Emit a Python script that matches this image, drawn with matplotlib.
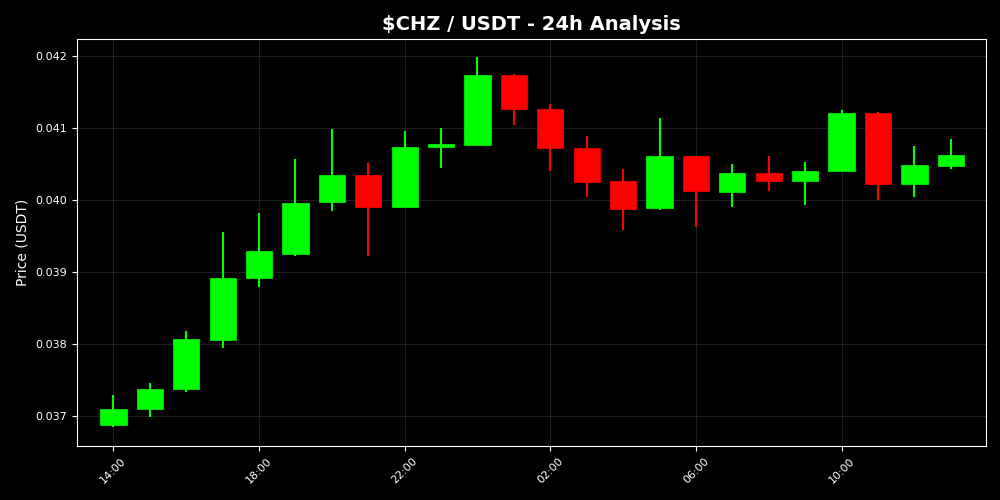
#! /usr/bin/env python3
from datetime import datetime, timedelta

import matplotlib
matplotlib.use('Agg')
import matplotlib.pyplot as plt
import matplotlib.dates as mdates
from matplotlib.ticker import FormatStrFormatter

# hourly candles, 14:00 -> 13:00 next day
hours = ['14:00', '15:00', '16:00', '17:00', '18:00', '19:00', '20:00', '21:00',
         '22:00', '23:00', '00:00', '01:00', '02:00', '03:00', '04:00', '05:00',
         '06:00', '07:00', '08:00', '09:00', '10:00', '11:00', '12:00', '13:00']
opens = [0.03687, 0.03709, 0.03738, 0.03806, 0.03892, 0.03925, 0.03998, 0.04035,
         0.03991, 0.04074, 0.04077, 0.04174, 0.04127, 0.04073, 0.04027, 0.03989,
         0.04061, 0.04012, 0.04038, 0.04026, 0.04040, 0.04121, 0.04022, 0.04048]
highs = [0.03729, 0.03746, 0.03818, 0.03956, 0.03982, 0.04057, 0.04099, 0.04052,
         0.04096, 0.04101, 0.04199, 0.04175, 0.04134, 0.04089, 0.04044, 0.04114,
         0.04062, 0.04050, 0.04062, 0.04053, 0.04125, 0.04123, 0.04075, 0.04085]
lows = [0.03684, 0.03698, 0.03734, 0.03795, 0.03879, 0.03923, 0.03985, 0.03922,
        0.03990, 0.04045, 0.04077, 0.04105, 0.04040, 0.04005, 0.03959, 0.03987,
        0.03963, 0.03991, 0.04013, 0.03993, 0.04040, 0.04000, 0.04004, 0.04044]
closes = [0.03710, 0.03737, 0.03807, 0.03892, 0.03929, 0.03996, 0.04035, 0.03991,
          0.04074, 0.04078, 0.04174, 0.04127, 0.04073, 0.04025, 0.03988, 0.04062,
          0.04013, 0.04038, 0.04027, 0.04041, 0.04121, 0.04023, 0.04049, 0.04063]

start = datetime(2024, 1, 1)
times = []
day = 0
prev = None
for h in hours:
    hh = int(h.split(':')[0])
    if prev is not None and hh < prev:
        day += 1
    prev = hh
    times.append(start + timedelta(days=day, hours=hh))

up_color = '#00ff00'
down_color = '#ff0000'

fig, ax = plt.subplots(figsize=(10, 5), dpi=100)
fig.patch.set_facecolor('black')
ax.set_facecolor('black')

for t, o, h, l, c in zip(times, opens, highs, lows, closes):
    color = up_color if c >= o else down_color
    ax.vlines(t, l, h, color=color, linewidth=1.5, zorder=2)
    ax.bar(t, abs(c - o), bottom=min(o, c), width=0.03, color=color,
           edgecolor=color, linewidth=0.5, zorder=3)

ax.set_xlim(times[0] - timedelta(hours=1), times[-1] + timedelta(minutes=58))
ax.margins(y=0.05)

ax.xaxis.set_major_locator(mdates.HourLocator(byhour=[2, 6, 10, 14, 18, 22]))
ax.xaxis.set_major_formatter(mdates.DateFormatter('%H:%M'))
ax.yaxis.set_major_formatter(FormatStrFormatter('%.3f'))
plt.setp(ax.get_xticklabels(), rotation=45, fontsize=8, color='white')
plt.setp(ax.get_yticklabels(), fontsize=8, color='white')
ax.tick_params(colors='white')

ax.grid(True, color='#262626', linewidth=0.8, alpha=0.8)
ax.set_axisbelow(True)
for s in ax.spines.values():
    s.set_color('white')

ax.set_title('$CHZ / USDT - 24h Analysis', color='white', fontsize=14,
             fontweight='bold')
ax.set_ylabel('Price (USDT)', color='white', fontsize=10)

plt.subplots_adjust(left=0.077, right=0.986, top=0.923, bottom=0.108)
plt.savefig('out.png', facecolor='black')
